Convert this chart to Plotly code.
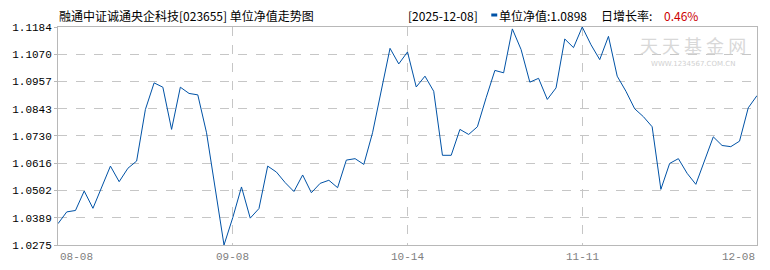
import plotly.graph_objects as go

# ---- data ----
nav = [1.0364, 1.0413, 1.0419, 1.0500, 1.0428, 1.0514, 1.0604, 1.0539, 1.0595, 1.0625,
       1.0840, 1.0951, 1.0933, 1.0757, 1.0933, 1.0907, 1.0901, 1.0743, 1.0507, 1.0275,
       1.0389, 1.0517, 1.0387, 1.0427, 1.0604, 1.0579, 1.0535, 1.0498, 1.0567, 1.0493,
       1.0532, 1.0545, 1.0514, 1.0629, 1.0635, 1.0611, 1.0743, 1.0916, 1.1095, 1.1030,
       1.1080, 1.0934, 1.0979, 1.0916, 1.0649, 1.0649, 1.0757, 1.0736, 1.0768, 1.0889,
       1.1003, 1.0993, 1.1176, 1.1090, 1.0954, 1.0970, 1.0882, 1.0930, 1.1134, 1.1098,
       1.1184, 1.1110, 1.1048, 1.1145, 1.0979, 1.0916, 1.0843, 1.0810, 1.0768, 1.0507,
       1.0615, 1.0635, 1.0574, 1.0528, 1.0625, 1.0726, 1.0690, 1.0685, 1.0708, 1.0847,
       1.0898]
x_tick_labels = ["08-08", "09-08", "10-14", "11-11", "12-08"]
y_tick_labels = ["1.0275", "1.0389", "1.0502", "1.0616", "1.0730",
                 "1.0843", "1.0957", "1.1070", "1.1184"]
fund_name = "融通中证诚通央企科技[023655] 单位净值走势图"
last_date = "2025-12-08"
last_nav = "1.0898"
daily_growth = "0.46%"

n = len(nav)
xs = list(range(n))
x_tick_pos = [round(k * (n - 1) / 4) for k in range(5)]
y_tick_vals = [float(v) for v in y_tick_labels]

FONT = "SimSun, 'Noto Sans CJK SC', sans-serif"
GRID = "#c6c6c6"
BORDER = "#b8b8b8"
LINE = "#0052a6"

fig = go.Figure()
fig.add_trace(go.Scatter(x=xs, y=nav, mode="lines",
                         line=dict(color=LINE, width=1), hoverinfo="skip"))

fig.update_layout(
    width=770, height=270,
    margin=dict(l=53, r=12, t=27, b=25),
    paper_bgcolor="white", plot_bgcolor="white",
    showlegend=False,
    font=dict(family=FONT, size=12, color="#000000"),
    xaxis=dict(range=[0, n - 1], tickvals=x_tick_pos[1:-1], showticklabels=False,
               showgrid=True, gridcolor=GRID, griddash="dash", gridwidth=1,
               showline=True, linecolor=BORDER, linewidth=1, mirror=True,
               zeroline=False, ticks=""),
    yaxis=dict(range=[y_tick_vals[0], y_tick_vals[-1]], tickvals=y_tick_vals,
               ticktext=y_tick_labels,
               tickfont=dict(family="'Liberation Mono', monospace", size=11, color="#000"),
               showgrid=True, gridcolor=GRID, griddash="dash", gridwidth=1,
               showline=True, linecolor=BORDER, linewidth=1, mirror=True,
               zeroline=False, ticks="outside", ticklen=3, tickcolor=BORDER),
)

# x tick labels (first left-aligned, last right-aligned)
for i, (p, lab) in enumerate(zip(x_tick_pos, x_tick_labels)):
    anchor = "left" if i == 0 else ("right" if i == len(x_tick_pos) - 1 else "center")
    fig.add_annotation(x=p, y=0, xref="x", yref="paper", text=lab, showarrow=False,
                       xanchor=anchor, yanchor="middle", yshift=-12,
                       font=dict(family="'Liberation Mono', monospace", size=11, color="#808080"))

PW, PH = 705, 218  # plot area in px
def px(xp):
    return (xp - 53) / PW
def py(yp):
    return (245 - yp) / PH

def top_text(xpx, text, color="#000"):
    fig.add_annotation(x=px(xpx), y=py(15), xref="paper", yref="paper",
                       text=text, showarrow=False, xanchor="left", yanchor="middle",
                       font=dict(family=FONT, size=12, color=color))

top_text(52, fund_name)
top_text(404, "[" + last_date + "]")
top_text(496, "单位净值:" + last_nav)
top_text(599, "日增长率:")
top_text(662, daily_growth, "#cc0000")
fig.add_shape(type="line", xref="paper", yref="paper",
              x0=px(490), x1=px(496), y0=py(15), y1=py(15),
              line=dict(color=LINE, width=3))

# watermark
fig.add_annotation(x=px(693), y=py(45), xref="paper", yref="paper",
                   text="天 天 基 金 网", showarrow=False, xanchor="center", yanchor="middle",
                   font=dict(family="'Noto Sans CJK SC'", size=18, color="#d8d8d8"))
fig.add_annotation(x=px(693), y=py(63.5), xref="paper", yref="paper",
                   text="WWW.1234567.COM.CN", showarrow=False, xanchor="center", yanchor="middle",
                   font=dict(family="'DejaVu Sans'", size=7, color="#d0d0d0"))

fig.write_html("out.html")
